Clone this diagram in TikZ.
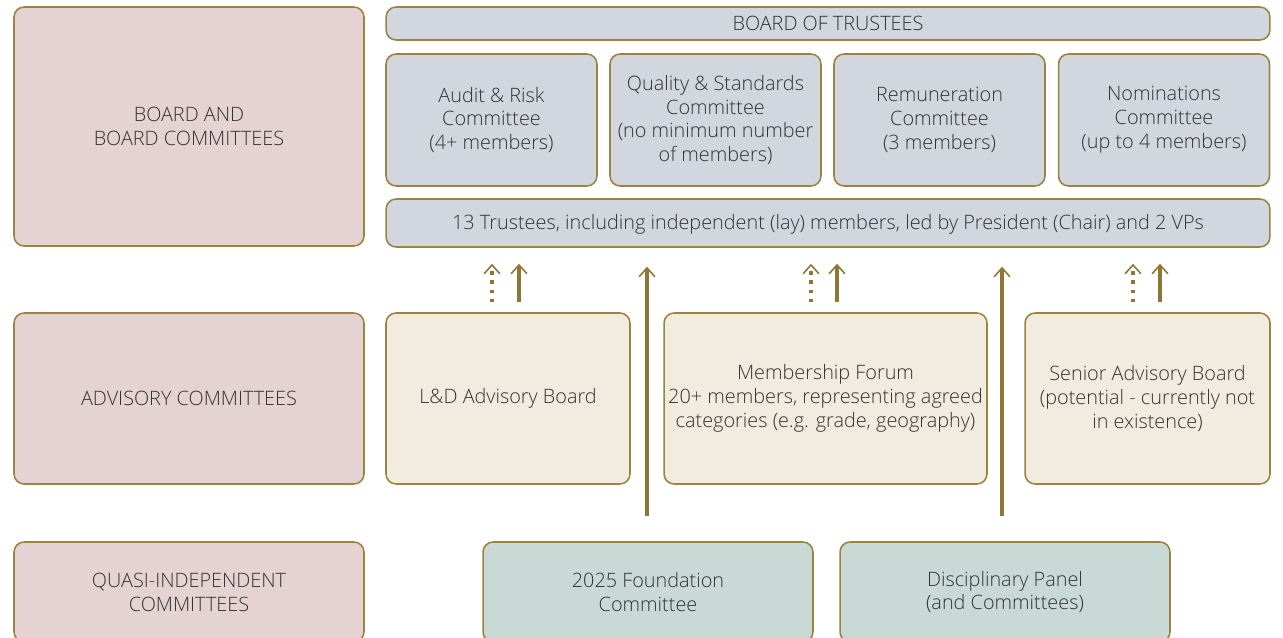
\documentclass[tikz,border=0pt]{standalone}
\usepackage{fontspec}
\setmainfont{Open Sans}[UprightFont={* Light}]
\usepackage{tikz}
\usetikzlibrary{calc}
\usetikzlibrary{positioning}
\usetikzlibrary{arrows.meta}

\definecolor{rim}{HTML}{9C8340}
\definecolor{arrowcol}{HTML}{8E7634}
\definecolor{pinkfill}{HTML}{E5D3D3}
\definecolor{bluefill}{HTML}{D2D6DE}
\definecolor{creamfill}{HTML}{F1ECDF}
\definecolor{tealfill}{HTML}{C9DAD6}
\definecolor{txt}{HTML}{333333}

\tikzset{
	box/.style={draw=rim, line width=0.9pt, rounded corners=0.2cm, align=center, text=txt, inner sep=0pt,
		font=\fontsize{11.3}{13.6}\selectfont},
	arr/.style={draw=arrowcol, line width=2pt, -{Straight Barb[length=5pt,width=9pt,line width=0.9pt]}},
	dotarr/.style={arr, line width=1.8pt, dash pattern=on 2pt off 3.2pt},
}

\begin{document}
\begin{tikzpicture}[x=0.02cm, y=-0.02cm]
				\useasboundingbox (0,0) rectangle (1283,638);
				
				% row labels
				\node[box, fill=pinkfill, minimum width=7cm, minimum height=4.78cm] (board) at (189,126.5) {BOARD AND\\BOARD COMMITTEES};
				\node[box, fill=pinkfill, minimum width=7cm, minimum height=3.42cm] (advisory) at (189,398.5) {ADVISORY COMMITTEES};
				\node[box, fill=pinkfill, minimum width=7cm, minimum height=2cm] (quasi) at (189,592) {QUASI-INDEPENDENT\\COMMITTEES};
				
				% board
				\node[box, fill=bluefill, minimum width=17.68cm, minimum height=0.66cm] (bot) at (828,23.5) {BOARD OF TRUSTEES};
				\node[box, fill=bluefill, minimum width=4.22cm, minimum height=2.64cm] (audit) at (491.5,120) {Audit \& Risk\\Committee\\(4+ members)};
				\node[box, fill=bluefill, minimum width=4.22cm, minimum height=2.64cm] (quality) at (715.5,120) {Quality \& Standards\\Committee\\(no minimum number\\of members)};
				\node[box, fill=bluefill, minimum width=4.22cm, minimum height=2.64cm] (remun) at (939.5,120) {Remuneration\\Committee\\(3 members)};
				\node[box, fill=bluefill, minimum width=4.22cm, minimum height=2.64cm] (nomin) at (1164,120) {Nominations\\Committee\\(up to 4 members)};
				\node[box, fill=bluefill, minimum width=17.68cm, minimum height=0.96cm, text depth=1pt] (trust) at (828,223) {13 Trustees, including independent (lay) members, led by President (Chair) and 2 VPs};
				
				% advisory
				\node[box, fill=creamfill, minimum width=4.88cm, minimum height=3.42cm] (ld) at (508,398.5) {L\&D Advisory Board};
				\node[box, fill=creamfill, minimum width=6.46cm, minimum height=3.42cm] (forum) at (825.5,398.5) {Membership Forum\\20+ members, representing agreed\\categories (e.g. grade, geography)};
				\node[box, fill=creamfill, minimum width=4.9cm, minimum height=3.42cm] (senior) at (1147.5,398.5) {Senior Advisory Board\\(potential - currently not\\in existence)};
				
				% quasi-independent
				\node[box, fill=tealfill, minimum width=6.6cm, minimum height=2cm] (found) at (648,592) {2025 Foundation\\Committee};
				\node[box, fill=tealfill, minimum width=6.6cm, minimum height=2cm] (discip) at (1005,592) {Disciplinary Panel\\(and Committees)};
				
				% arrow ends
				\coordinate (ldA) at ($(ld.north)+(-16,-10)$);
				\coordinate (ldB) at ($(ld.north)+(11,-10)$);
				\coordinate (forumA) at ($(forum.north)+(-14.5,-10)$);
				\coordinate (forumB) at ($(forum.north)+(11.5,-10)$);
				\coordinate (seniorA) at ($(senior.north)+(-14.5,-10)$);
				\coordinate (seniorB) at ($(senior.north)+(12.5,-10)$);
				\coordinate (foundUp) at ($(found.north)+(-1,-25)$);
				\coordinate (discipUp) at ($(discip.north)+(-3,-25)$);
				
				\draw[dotarr] (ldA) -- ($(ldA |- trust.south)+(0,16)$);
				\draw[arr] (ldB) -- ($(ldB |- trust.south)+(0,16)$);
				\draw[dotarr] (forumA) -- ($(forumA |- trust.south)+(0,16)$);
				\draw[arr] (forumB) -- ($(forumB |- trust.south)+(0,16)$);
				\draw[dotarr] (seniorA) -- ($(seniorA |- trust.south)+(0,16)$);
				\draw[arr] (seniorB) -- ($(seniorB |- trust.south)+(0,16)$);
				\draw[arr] (foundUp) -- ($(foundUp |- trust.south)+(0,19)$);
				\draw[arr] (discipUp) -- ($(discipUp |- trust.south)+(0,19)$);
			\end{tikzpicture}
\end{document}
